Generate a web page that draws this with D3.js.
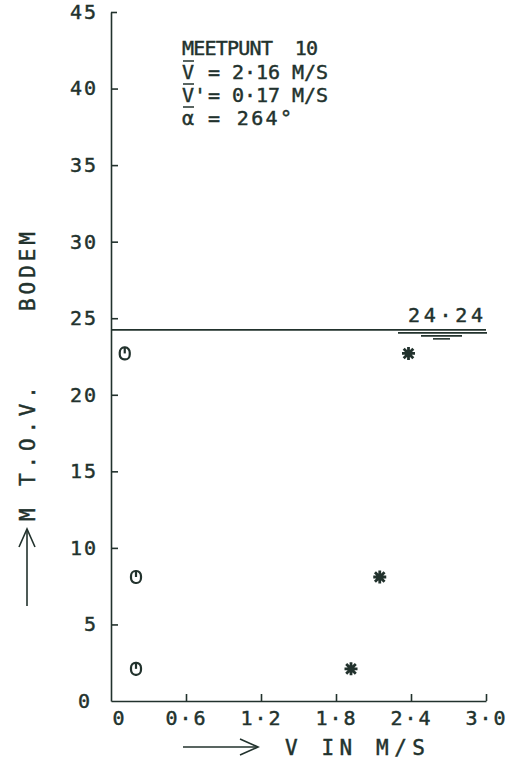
<!DOCTYPE html>
<html>
<head>
<meta charset="utf-8">
<script src="https://cdn.jsdelivr.net/npm/d3@7/dist/d3.min.js"></script>
<style>
  html, body { margin: 0; padding: 0; background: #fff; }
  svg text { font-family: "DejaVu Sans Mono", monospace; fill: #22322d; stroke: #22322d; stroke-width: 0.45; }
</style>
</head>
<body>
<svg id="chart" width="513" height="775"></svg>
<script>
// Measured velocity profile, station 10
const depths = [22.7, 8.1, 2.1];            // m above bottom
const velocity = [2.38, 2.15, 1.92];        // V, m/s (asterisks)
const deviation = [0.11, 0.20, 0.20];       // V', m/s (circles)
const waterLevel = 24.24;
const xTicks = [0, 0.6, 1.2, 1.8, 2.4, 3.0];
const xTickLabels = ["0", "0.6", "1.2", "1.8", "2.4", "3.0"];
const yTicks = [0, 5, 10, 15, 20, 25, 30, 35, 40, 45];
const infoSymbols = ["V", "V'", "α"];
const infoValues = ["= 2.16 M/S", "= 0.17 M/S", "= 264°"];

const ink = "#22322d";
const svg = d3.select("#chart");
const x = d3.scaleLinear().domain([0, 3.0]).range([111, 486]);
const y = d3.scaleLinear().domain([0, 45]).range([701, 12]);

// axes: ticks point into the plot
const fmt = v => xTickLabels[xTicks.indexOf(v)].replace(".", "·");
const gx = svg.append("g").attr("transform", `translate(0,${y(0)})`)
  .call(d3.axisBottom(x).tickValues(xTicks).tickSizeInner(-7).tickSizeOuter(0).tickFormat(fmt));
const gy = svg.append("g").attr("transform", `translate(${x(0)},0)`)
  .call(d3.axisLeft(y).tickValues(yTicks).tickSizeInner(-7).tickSizeOuter(0));
[gx, gy].forEach(g => {
  g.selectAll("path.domain").attr("stroke", ink).attr("stroke-width", 1.6);
  g.selectAll(".tick line").attr("stroke", ink).attr("stroke-width", 1.6);
  g.selectAll(".tick text").attr("font-size", 20).attr("letter-spacing", 2)
    .style("font-family", '"DejaVu Sans Mono", monospace').attr("fill", ink)
    .attr("stroke", ink).attr("stroke-width", 0.45);
});
gx.selectAll(".tick text").attr("dy", "1.05em").attr("text-anchor", "middle");
gx.selectAll(".tick").filter(d => d === 0).select("text").attr("dx", 8);
gx.selectAll(".tick").filter(d => d === 0).select("line").remove();
gy.selectAll(".tick text").attr("x", -13);
gy.selectAll(".tick").filter(d => d === 0).select("text").attr("x", -19);
gy.selectAll(".tick").filter(d => d === 0).select("line").remove();
gy.selectAll(".tick").filter(d => d === 45).select("line").attr("x2", 6);

// water level line with marker
svg.append("line").attr("x1", x(0)).attr("x2", x(3.0))
  .attr("y1", y(waterLevel)).attr("y2", y(waterLevel))
  .attr("stroke", ink).attr("stroke-width", 1.6);
const wl = [[398, 487, 3], [421, 462, 6], [433, 450, 9]];
svg.selectAll("line.wl").data(wl).join("line").attr("class", "wl")
  .attr("x1", d => d[0]).attr("x2", d => d[1])
  .attr("y1", d => y(waterLevel) + d[2]).attr("y2", d => y(waterLevel) + d[2])
  .attr("stroke", ink).attr("stroke-width", 1.6);
svg.append("text").attr("x", 408).attr("y", y(waterLevel) - 8)
  .attr("font-size", 20).attr("textLength", 75).attr("lengthAdjust", "spacing")
  .text(waterLevel.toFixed(2).replace(".", "·"));

// asterisk markers for V
const star = "M-6.5,0H6.5M0,-6.5V6.5M-4.8,-4.8L4.8,4.8M-4.8,4.8L4.8,-4.8";
svg.selectAll("path.star").data(depths).join("path").attr("class", "star")
  .attr("d", star)
  .attr("transform", (d, i) => `translate(${x(velocity[i])},${y(d)})`)
  .attr("stroke", ink).attr("stroke-width", 2.8).attr("fill", "none");

// circle markers for V'
const gc = svg.selectAll("g.circ").data(depths).join("g").attr("class", "circ")
  .attr("transform", (d, i) => `translate(${x(deviation[i])},${y(d)})`);
gc.append("rect").attr("x", -5).attr("y", -6).attr("width", 10).attr("height", 12)
  .attr("rx", 4.5).attr("ry", 5).attr("fill", "none").attr("stroke", ink).attr("stroke-width", 2.2);
gc.append("line").attr("x1", 0).attr("x2", 0).attr("y1", -6).attr("y2", 0)
  .attr("stroke", ink).attr("stroke-width", 2.2);

// info block
const infoY = i => i === 0 ? 55 : 56 + i * 23;
const info = svg.append("g").attr("font-size", 20);
info.append("text").attr("x", 182).attr("y", infoY(0))
  .attr("xml:space", "preserve").attr("textLength", 136).attr("lengthAdjust", "spacing")
  .text("MEETPUNT  10");
info.selectAll("text.sym").data(infoSymbols).join("text").attr("class", "sym")
  .attr("x", 182).attr("y", (d, i) => infoY(i + 1)).text(d => d);
info.selectAll("text.val").data(infoValues).join("text").attr("class", "val")
  .attr("x", 208).attr("y", (d, i) => infoY(i + 1))
  .attr("textLength", (d, i) => i < 2 ? 120 : 84).attr("lengthAdjust", "spacing")
  .text(d => d.replace(".", "·"));
// overbars on the mean symbols
[1, 2, 3].forEach(i => {
  info.append("line").attr("x1", 183).attr("x2", 194)
    .attr("y1", infoY(i) - 18).attr("y2", infoY(i) - 18)
    .attr("stroke", ink).attr("stroke-width", 1.5);
});

// axis titles
svg.append("line").attr("x1", 183).attr("x2", 257).attr("y1", 747).attr("y2", 747)
  .attr("stroke", ink).attr("stroke-width", 1.6);
svg.append("path").attr("d", "M240,739L258,747L240,755").attr("fill", "none")
  .attr("stroke", ink).attr("stroke-width", 1.6);
svg.append("text").attr("x", 285).attr("y", 755).attr("font-size", 21)
  .attr("textLength", 140).attr("lengthAdjust", "spacing")
  .attr("xml:space", "preserve").text("V IN M/S");

svg.append("line").attr("x1", 27).attr("x2", 27).attr("y1", 606).attr("y2", 530)
  .attr("stroke", ink).attr("stroke-width", 1.6);
svg.append("path").attr("d", "M19,547L27,529L35,547").attr("fill", "none")
  .attr("stroke", ink).attr("stroke-width", 1.6);
const yTitle = svg.append("g").attr("transform", "translate(35,0) rotate(-90)").attr("font-size", 21);
[["M", -521, null], ["T.O.V.", -486, 100], ["BODEM", -311, 79]].forEach(([t, pos, len]) => {
  const el = yTitle.append("text").attr("x", pos).attr("y", 0).text(t);
  if (len) el.attr("textLength", len).attr("lengthAdjust", "spacing");
});
</script>
</body>
</html>
